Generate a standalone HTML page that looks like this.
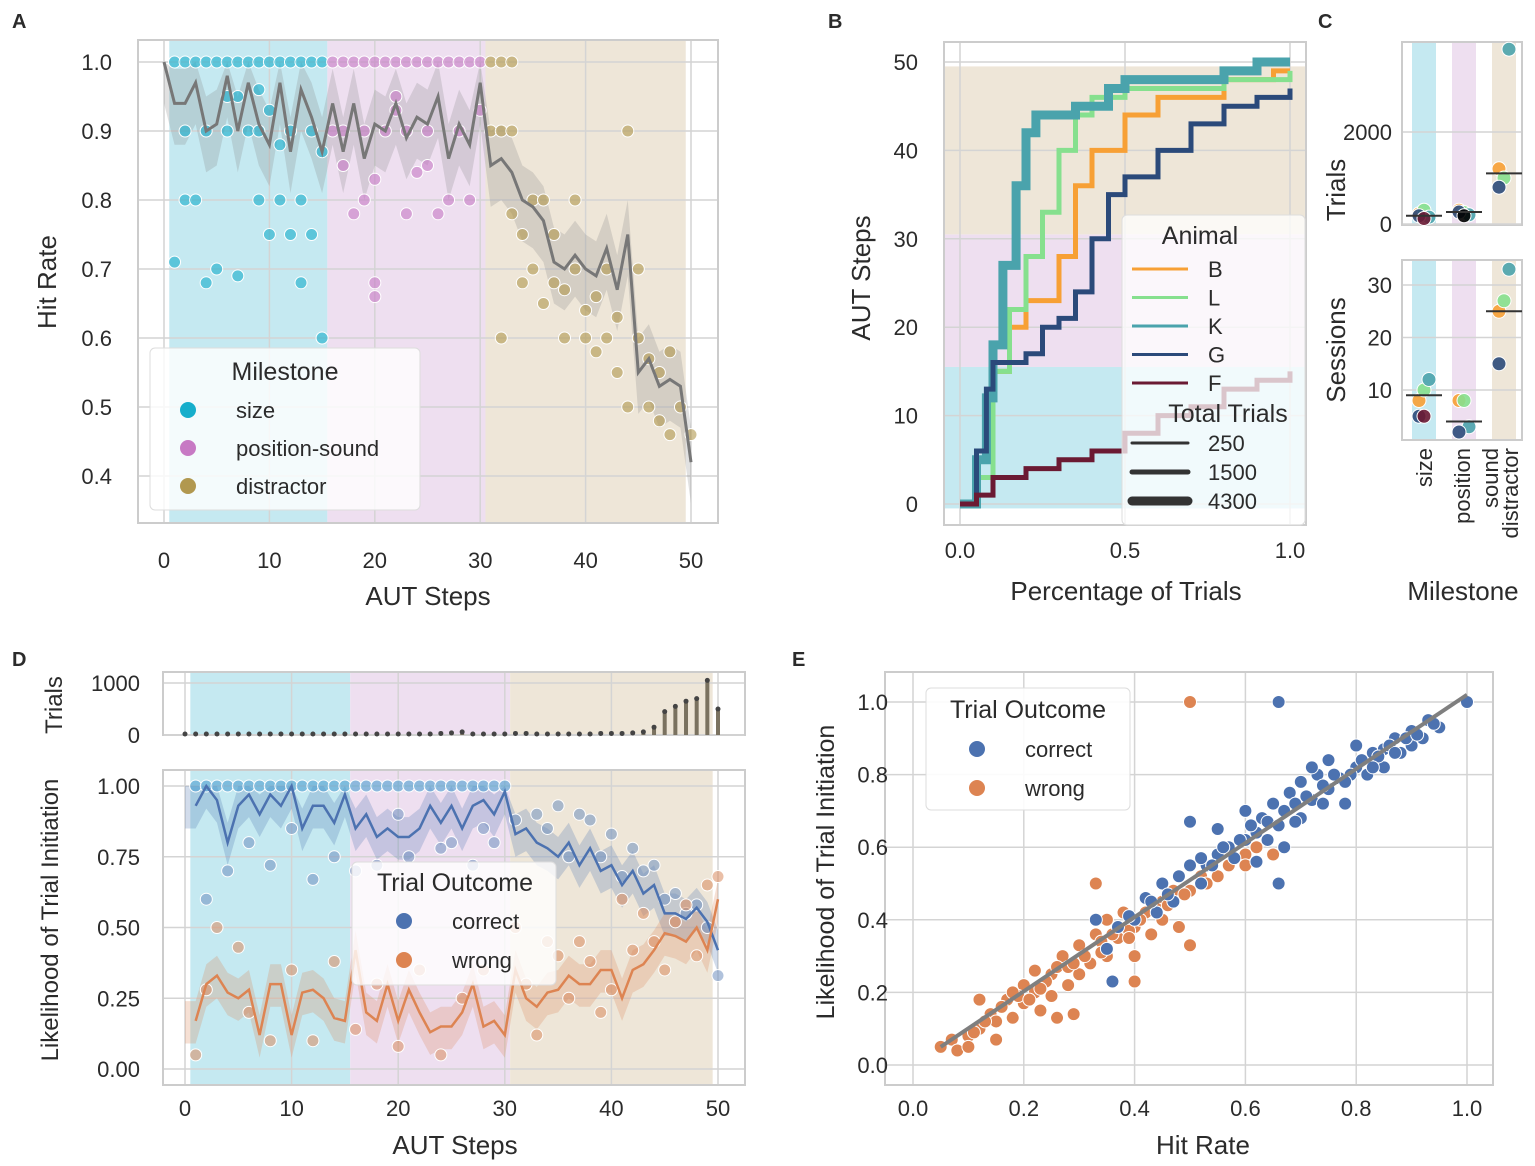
<!DOCTYPE html>
<html><head><meta charset="utf-8"><style>
html,body{margin:0;padding:0;background:#fff;}
svg{display:block;font-family:"Liberation Sans",sans-serif;}
text{fill:#2b2b2b;}
</style></head><body>
<svg id="fig" width="1535" height="1166" viewBox="0 0 1535 1166">
<text x="12" y="28" font-size="20" font-weight="bold">A</text>
<text x="828" y="28" font-size="20" font-weight="bold">B</text>
<text x="1318" y="28" font-size="20" font-weight="bold">C</text>
<text x="12" y="666" font-size="20" font-weight="bold">D</text>
<text x="792" y="666" font-size="20" font-weight="bold">E</text>
</svg>
<script>
// ---------- DATA ----------
const aSteps=[0,1,2,3,4,5,6,7,8,9,10,11,12,13,14,15,16,17,18,19,20,21,22,23,24,25,26,27,28,29,30,31,32,33,34,35,36,37,38,39,40,41,42,43,44,45,46,47,48,49,50];
const aMean=[1.0,.94,.94,.97,.90,.91,.98,.90,.97,.91,.88,.97,.87,.96,.92,.87,.94,.87,.94,.86,.91,.90,.94,.89,.92,.91,.95,.86,.91,.88,.97,.85,.86,.84,.80,.79,.77,.71,.70,.72,.70,.69,.73,.67,.75,.55,.57,.53,.54,.53,.42];
const aSize=[[1,1],[2,1],[3,1],[4,1],[5,1],[6,1],[7,1],[8,1],[9,1],[10,1],[11,1],[12,1],[13,1],[14,1],[15,1],[1,.71],[2,.9],[2,.8],[3,.8],[4,.68],[4,.9],[5,.7],[6,.9],[7,.69],[7,.95],[8,.9],[9,.8],[9,.9],[10,.75],[10,.93],[11,.8],[12,.75],[12,.9],[13,.68],[13,.8],[14,.75],[14,.9],[15,.6],[15,.87],[9,.96],[11,.88],[6,.95]];
const aPos=[[16,1],[17,1],[18,1],[19,1],[20,1],[21,1],[22,1],[23,1],[24,1],[25,1],[26,1],[27,1],[28,1],[29,1],[30,1],[17,.85],[18,.78],[19,.8],[20,.68],[20,.83],[21,.9],[22,.95],[23,.9],[23,.78],[24,.84],[25,.9],[26,.78],[27,.8],[28,.9],[29,.8],[19,.9],[22,.93],[17,.9],[25,.85],[30,.93],[16,.9],[20,.66]];
const aDis=[[31,1],[32,1],[33,1],[31,.9],[32,.9],[33,.78],[33,.9],[34,.75],[35,.8],[35,.7],[36,.65],[37,.68],[37,.75],[38,.67],[38,.6],[39,.7],[39,.8],[40,.64],[40,.6],[41,.66],[41,.58],[42,.6],[42,.7],[43,.55],[43,.63],[44,.9],[45,.6],[45,.7],[46,.57],[46,.5],[47,.55],[47,.48],[48,.46],[48,.58],[49,.5],[50,.46],[44,.5],[36,.8],[32,.6],[34,.68]];

const bAnimals=["B","L","K","G","F"];
const bColors=["#f7a035","#86e08e","#4aa3ac","#2b4a7a","#6b1a33"];
const bWidths=[5,5,9,5,5];
const bPct=[
 [0,.02,.05,.1,.15,.2,.25,.3,.35,.4,.5,.6,.8,.95,1],
 [0,.02,.05,.1,.15,.2,.25,.3,.35,.4,.5,.7,.8,1],
 [0,.02,.05,.08,.1,.13,.17,.2,.23,.3,.35,.45,.5,.6,.8,.9,1],
 [0,.02,.05,.08,.1,.2,.25,.3,.35,.4,.45,.5,.6,.7,.8,.9,1],
 [0,.05,.1,.2,.3,.4,.5,.6,.7,.8,.9,1]];
const bSteps=[
 [0,0,3,15,20,23,23,28,36,40,44,46,48,49,49],
 [0,0,3,15,22,28,33,40,44,46,47,47,48,49],
 [0,0,5,12,18,27,36,42,44,44,45,47,48,48,49,50,50],
 [0,0,6,13,16,17,20,21,24,30,35,37,40,43,45,46,47],
 [0,1,3,4,5,6,8,10,11,13,14,15]];

const cCats=["size","position-sound","distractor"];
const cTrials=[[220,300,150,180,120],[300,250,200,260,180],[1200,1000,3800,800]];
const cTrialsMed=[180,260,1100];
const cSess=[[8,10,12,5,5],[8,8,3,2],[25,27,33,15]];
const cSessMed=[9,4,25];
const cColorIdx=[[0,1,2,3,4],[0,1,2,3],[0,1,2,3]];

const dCounts=[20,20,20,20,20,20,20,20,20,20,20,20,20,20,20,20,20,20,20,20,20,20,20,20,30,40,60,20,20,20,20,30,30,20,20,20,20,20,20,30,30,30,40,60,150,450,550,650,700,1050,500];
const dCorrect=[.93,.93,1.0,.95,.8,.93,.97,.9,.97,.93,1.0,.85,.93,.93,.87,.97,.85,.9,.82,.85,.82,.82,.85,.93,.87,.93,.85,.93,.95,.9,.98,.83,.85,.8,.78,.75,.8,.72,.78,.7,.72,.65,.7,.62,.65,.55,.55,.53,.57,.52,.42];
const dWrong=[.17,.17,.3,.33,.27,.25,.28,.12,.3,.3,.12,.27,.28,.25,.18,.17,.42,.2,.17,.3,.17,.28,.2,.13,.15,.15,.2,.3,.15,.17,.12,.35,.25,.22,.27,.28,.33,.3,.3,.35,.35,.25,.35,.37,.42,.48,.47,.45,.5,.42,.6];
const dCorrPts=[[2,.6],[4,.7],[6,.8],[8,.72],[10,.85],[12,.67],[14,.75],[16,.7],[18,.72],[21,.75],[24,.78],[27,.72],[29,.8],[33,.9],[35,.93],[38,.88],[40,.83],[42,.78],[44,.72],[46,.62],[48,.58],[50,.33],[36,.75],[41,.68],[31,.88],[34,.85],[37,.9],[39,.75],[43,.7],[45,.6],[47,.55],[49,.5],[20,.9],[25,.8],[28,.85]];
const dWrongPts=[[1,.05],[2,.28],[3,.5],[5,.43],[6,.2],[8,.1],[10,.35],[12,.1],[14,.38],[16,.14],[18,.3],[20,.08],[22,.35],[24,.05],[26,.25],[28,.35],[31,.5],[33,.12],[35,.4],[37,.45],[39,.2],[41,.6],[43,.55],[45,.35],[47,.58],[49,.65],[50,.68],[32,.3],[34,.45],[36,.25],[38,.38],[40,.28],[42,.42],[44,.45],[46,.52],[48,.4]];

const eCorrect=[[.33,.4],[.35,.32],[.37,.38],[.4,.4],[.42,.46],[.44,.42],[.45,.5],[.47,.45],[.5,.55],[.5,.67],[.52,.5],[.55,.58],[.55,.65],[.57,.6],[.6,.62],[.6,.7],[.62,.56],[.63,.68],[.65,.72],[.66,.5],[.66,1.0],[.67,.7],[.68,.75],[.7,.68],[.7,.78],[.72,.73],[.73,.8],[.75,.76],[.75,.84],[.77,.79],[.78,.72],[.8,.82],[.8,.88],[.82,.8],[.83,.86],[.85,.87],[.85,.82],[.87,.9],[.88,.86],[.9,.88],[.9,.92],[.92,.9],[.93,.95],[.95,.93],[1.0,1.0],[.72,.82],[.58,.57],[.62,.64],[.48,.52],[.53,.55],[.36,.23],[.67,.6],[.56,.6],[.59,.62],[.61,.66],[.64,.67],[.66,.66],[.69,.72],[.71,.74],[.74,.77],[.76,.8],[.79,.8],[.81,.84],[.84,.85],[.86,.88],[.89,.9],[.91,.91],[.94,.94],[.54,.55],[.46,.47],[.43,.45],[.39,.41],[.52,.57],[.64,.62],[.69,.67],[.74,.72],[.78,.78],[.83,.82],[.87,.86]];
const eWrong=[[.05,.05],[.07,.07],[.08,.04],[.1,.08],[.1,.05],[.12,.1],[.14,.14],[.15,.12],[.15,.07],[.17,.18],[.18,.13],[.2,.22],[.2,.17],[.22,.2],[.22,.26],[.23,.15],[.25,.25],[.25,.19],[.27,.3],[.28,.22],[.29,.14],[.3,.33],[.3,.25],[.32,.28],[.33,.5],[.33,.36],[.35,.3],[.35,.4],[.37,.35],[.38,.42],[.4,.38],[.4,.3],[.42,.42],[.43,.36],[.45,.45],[.45,.4],[.47,.48],[.48,.38],[.5,.33],[.5,.48],[.5,1.0],[.52,.52],[.55,.52],[.57,.55],[.6,.58],[.6,.55],[.62,.6],[.65,.58],[.12,.18],[.26,.13],[.4,.23],[.13,.12],[.16,.16],[.19,.19],[.21,.18],[.24,.23],[.26,.27],[.28,.27],[.31,.3],[.34,.34],[.36,.36],[.39,.37],[.41,.4],[.44,.43],[.46,.44],[.49,.47],[.53,.5],[.11,.09],[.18,.2],[.23,.21],[.29,.28],[.34,.31],[.39,.35]];
const eFit=[0.05,1.0];

// ---------- HELPERS ----------
const NS="http://www.w3.org/2000/svg";
const svg=document.getElementById('fig');
function mk(tag,attrs,parent){const e=document.createElementNS(NS,tag);for(const k in attrs)e.setAttribute(k,attrs[k]);(parent||svg).appendChild(e);return e;}
function txt(x,y,s,size,anchor,parent,extra){const t=mk('text',Object.assign({x:x,y:y,'font-size':size,'text-anchor':anchor||'middle'},extra||{}),parent);t.textContent=s;return t;}
function frame(x0,y0,x1,y1,name){const r=mk('rect',{x:x0,y:y0,width:x1-x0,height:y1-y0,fill:'#fff',stroke:'#cccccc','stroke-width':2});return r;}
function band(x0,y0,x1,y1,c,name){const r=mk('rect',{x:x0,y:y0,width:x1-x0,height:y1-y0,fill:c});}
function grid(x1,y1,x2,y2){const l=mk('line',{x1:x1,y1:y1,x2:x2,y2:y2,stroke:'#d4d4d4','stroke-width':1.5});}
function dot(x,y,r,c,op,name){const d=mk('circle',{cx:x,cy:y,r:r,fill:c,'fill-opacity':op,stroke:'#fff','stroke-width':1});return d;}
const CY='#c5e9f1',PK='#eedff0',TN='#eee6d8';

// ---------- PANEL A ----------
(function(){
const ax=s=>164+s*10.54, ay=v=>62+(1-v)*690;
frame(138,40,718,523,'panel-a-plot');
band(ax(0.5),41,ax(15.5),522,CY,'band-size');band(ax(15.5),41,ax(30.5),522,PK,'band-position-sound');band(ax(30.5),41,ax(49.5),522,TN,'band-distractor');
[0,10,20,30,40,50].forEach(v=>{grid(ax(v),41,ax(v),522);const t=txt(ax(v),568,v,22);});
[1,.9,.8,.7,.6,.5,.4].forEach(v=>{grid(139,ay(v),717,ay(v));const t=txt(112,ay(v)+8,v.toFixed(1),22,'end');});
let up='';aSteps.forEach((s,i)=>{up+=(i?'L':'M')+ax(s)+','+ay(Math.min(1,aMean[i]+0.05));});
for(let i=aSteps.length-1;i>=0;i--)up+='L'+ax(aSteps[i])+','+ay(aMean[i]-0.06);
const ci=mk('path',{d:up+'Z',fill:'#888','fill-opacity':0.25});
aSize.forEach(p=>dot(ax(p[0]),ay(p[1]),6,'#16aecb',0.6,'size-point'));
aPos.forEach(p=>dot(ax(p[0]),ay(p[1]),6,'#c779c4',0.6,'position-sound-point'));
aDis.forEach(p=>dot(ax(p[0]),ay(p[1]),6,'#b1984f',0.6,'distractor-point'));
const ln=mk('polyline',{points:aSteps.map((s,i)=>ax(s)+','+ay(aMean[i])).join(' '),fill:'none',stroke:'#777','stroke-width':3});
const xt=txt(428,605,'AUT Steps',26);
const yt=txt(56,282,'Hit Rate',26,'middle',svg,{transform:'rotate(-90 56 282)'});
const g=mk('g',{});
mk('rect',{x:150,y:348,width:270,height:162,rx:5,fill:'#fff','fill-opacity':0.8,stroke:'#ddd'},g);
txt(285,380,'Milestone',25,'middle',g);
[['size','#16aecb',410],['position-sound','#c779c4',448],['distractor','#b1984f',486]].forEach(e=>{const c=mk('circle',{cx:188,cy:e[2],r:8,fill:e[1]},g);const t=txt(236,e[2]+8,e[0],22,'start',g);});
})();

// ---------- PANEL B ----------
(function(){
const bx=p=>960+p*330, by=v=>504-v*8.84;
frame(944,42,1306,525,'panel-b-plot');
band(945,by(15.5),1305,by(-0.5),CY,'band-size');band(945,by(30.5),1305,by(15.5),PK,'band-position-sound');band(945,by(49.5),1305,by(30.5),TN,'band-distractor');
[0,.5,1].forEach(v=>{grid(bx(v),43,bx(v),524);const t=txt(bx(v),558,v.toFixed(1),22);});
[0,10,20,30,40,50].forEach(v=>{grid(945,by(v),1305,by(v));const t=txt(918,by(v)+8,v,22,'end');});
bAnimals.forEach((a,i)=>{let d='';bPct[i].forEach((p,j)=>{d+=(j?'H'+bx(p)+'V'+by(bSteps[i][j]):'M'+bx(p)+','+by(bSteps[i][j]));});
const l=mk('path',{d:d,fill:'none',stroke:bColors[i],'stroke-width':bWidths[i]});});
const xt=txt(1126,600,'Percentage of Trials',26);
const yt=txt(870,278,'AUT Steps',26,'middle',svg,{transform:'rotate(-90 870 278)'});
const g=mk('g',{});
mk('rect',{x:1122,y:215,width:183,height:310,rx:5,fill:'#fff','fill-opacity':0.75,stroke:'#ddd'},g);
txt(1200,244,'Animal',25,'middle',g);
bAnimals.forEach((a,i)=>{const y=269+i*28.5;const l=mk('line',{x1:1132,y1:y,x2:1188,y2:y,stroke:bColors[i],'stroke-width':3},g);const t=txt(1208,y+8,a,22,'start',g);});
txt(1228,422,'Total Trials',25,'middle',g);
[['250',3,443],['1500',5,472],['4300',9,501]].forEach(e=>{const l=mk('line',{x1:1132,y1:e[2],x2:1188,y2:e[2],stroke:'#333','stroke-width':e[1],'stroke-linecap':'round'},g);const t=txt(1208,e[2]+8,e[0],22,'start',g);});
})();

// ---------- PANEL C ----------
(function(){
const cx=[1424,1464,1504];
const ty=v=>224-v*0.046, sy=v=>390-(v-10)*5.25;
frame(1402,42,1522,225,'panel-c-trials-plot');frame(1402,260,1522,440,'panel-c-sessions-plot');
[[43,224],[261,439]].forEach(r=>{band(1412,r[0],1436,r[1],CY,'band-size');band(1452,r[0],1476,r[1],PK,'band-position-sound');band(1492,r[0],1516,r[1],TN,'band-distractor');});
[0,2000].forEach(v=>{grid(1403,ty(v),1521,ty(v));const t=txt(1392,ty(v)+8,v,22,'end');});
[10,20,30].forEach(v=>{grid(1403,sy(v),1521,sy(v));const t=txt(1392,sy(v)+8,v,22,'end');});
cCats.forEach((c,i)=>{
 cTrials[i].forEach((v,j)=>dot(cx[i]+(j%3-1)*5,ty(v),7,bColors[cColorIdx[i][j]],0.9,'trials-point'));
 cSess[i].forEach((v,j)=>dot(cx[i]+(j%3-1)*5,sy(v),7,bColors[cColorIdx[i][j]],0.9,'sessions-point'));
 const m1=mk('line',{x1:cx[i]-18,x2:cx[i]+18,y1:ty(cTrialsMed[i]),y2:ty(cTrialsMed[i]),stroke:'#333','stroke-width':2});
 const m2=mk('line',{x1:cx[i]-18,x2:cx[i]+18,y1:sy(cSessMed[i]),y2:sy(cSessMed[i]),stroke:'#333','stroke-width':2});
});
[['size',1432],['position',1470],['sound',1498],['distractor',1518]].forEach(e=>{const t=txt(e[1],448,e[0],22,'end',svg,{transform:'rotate(-90 '+e[1]+' 448)'});});
const t1=txt(1345,190,'Trials',26,'middle',svg,{transform:'rotate(-90 1345 190)'});
const t2=txt(1345,350,'Sessions',26,'middle',svg,{transform:'rotate(-90 1345 350)'});
const xt=txt(1463,600,'Milestone',26);
})();

// ---------- PANEL D ----------
(function(){
const dx=s=>185+s*10.66, dyt=v=>735-v*0.052, dy=v=>1069-v*283;
frame(163,672,745,735,'panel-d-trials-plot');frame(163,770,745,1085,'panel-d-plot');
[[673,734],[771,1084]].forEach(r=>{band(dx(0.5),r[0],dx(15.5),r[1],CY,'band-size');band(dx(15.5),r[0],dx(30.5),r[1],PK,'band-position-sound');band(dx(30.5),r[0],dx(49.5),r[1],TN,'band-distractor');});
[0,10,20,30,40,50].forEach(v=>{grid(dx(v),673,dx(v),734);grid(dx(v),771,dx(v),1084);const t=txt(dx(v),1116,v,22);});
[0,1000].forEach(v=>{grid(164,dyt(v),744,dyt(v));const t=txt(140,dyt(v)+8,v,22,'end');});
[0,.25,.5,.75,1].forEach(v=>{grid(164,dy(v),744,dy(v));const t=txt(140,dy(v)+8,v.toFixed(2),22,'end');});
dCounts.forEach((c,i)=>{const b=mk('rect',{x:dx(i)-2,y:dyt(c),width:4,height:735-dyt(c),fill:'#7a7260'});const d=mk('circle',{cx:dx(i),cy:dyt(c),r:2.5,fill:'#444'});});
function ciBand(arr,c,name){let d='';arr.forEach((v,i)=>d+=(i?'L':'M')+dx(i)+','+dy(Math.min(1,v+0.07)));for(let i=arr.length-1;i>=0;i--)d+='L'+dx(i)+','+dy(Math.max(0,arr[i]-0.08));const p=mk('path',{d:d+'Z',fill:c,'fill-opacity':0.25});}
ciBand(dCorrect,'#4c72b0','correct-ci-band');ciBand(dWrong,'#dd8452','wrong-ci-band');
dCorrect.forEach((v,i)=>{if(i>0&&i<=30)dot(dx(i),dy(1),6,'#4c9fd0',0.6,'correct-point');});
dCorrPts.forEach(p=>dot(dx(p[0]),dy(p[1]),6,'#6f8fc0',0.55,'correct-point'));
dWrongPts.forEach(p=>dot(dx(p[0]),dy(p[1]),6,'#d98a5e',0.55,'wrong-point'));
const l1=mk('polyline',{points:dCorrect.map((v,i)=>dx(i)+','+dy(v)).slice(1).join(' '),fill:'none',stroke:'#4c72b0','stroke-width':2.5});
const l2=mk('polyline',{points:dWrong.map((v,i)=>dx(i)+','+dy(v)).slice(1).join(' '),fill:'none',stroke:'#dd8452','stroke-width':2.5});
const xt=txt(455,1154,'AUT Steps',26);
const yt=txt(58,920,'Likelihood of Trial Initiation',24,'middle',svg,{transform:'rotate(-90 58 920)'});
const yt2=txt(62,705,'Trials',24,'middle',svg,{transform:'rotate(-90 62 705)'});
const g=mk('g',{});
mk('rect',{x:352,y:862,width:204,height:123,rx:5,fill:'#fff','fill-opacity':0.8,stroke:'#ddd'},g);
txt(455,891,'Trial Outcome',25,'middle',g);
[['correct','#4c72b0',921],['wrong','#dd8452',960]].forEach(e=>{const c=mk('circle',{cx:404,cy:e[2],r:8,fill:e[1]},g);const t=txt(452,e[2]+8,e[0],22,'start',g);});
})();

// ---------- PANEL E ----------
(function(){
const ex=v=>913+v*554, ey=v=>1065-v*363;
frame(885,672,1493,1085,'panel-e-plot');
[0,.2,.4,.6,.8,1].forEach(v=>{grid(ex(v),673,ex(v),1084);grid(886,ey(v),1492,ey(v));const t=txt(ex(v),1116,v.toFixed(1),22);const t2=txt(888,ey(v)+8,v.toFixed(1),22,'end');});
eWrong.forEach(p=>dot(ex(p[0]),ey(p[1]),6.5,'#dd8452',1,'wrong-point'));
eCorrect.forEach(p=>dot(ex(p[0]),ey(p[1]),6.5,'#4c72b0',1,'correct-point'));
const f=mk('line',{x1:ex(eFit[0]),y1:ey(eFit[0]),x2:ex(eFit[1]),y2:ey(eFit[1]*1.02),stroke:'#7f7f7f','stroke-width':4});
const xt=txt(1203,1154,'Hit Rate',26);
const yt=txt(834,872,'Likelihood of Trial Initiation',25,'middle',svg,{transform:'rotate(-90 834 872)'});
const g=mk('g',{});
mk('rect',{x:926,y:688,width:204,height:122,rx:5,fill:'#fff','fill-opacity':0.9,stroke:'#ddd'},g);
txt(1028,718,'Trial Outcome',25,'middle',g);
[['correct','#4c72b0',749],['wrong','#dd8452',788]].forEach(e=>{const c=mk('circle',{cx:977,cy:e[2],r:8,fill:e[1]},g);const t=txt(1025,e[2]+8,e[0],22,'start',g);});
})();
</script>
</body></html>
